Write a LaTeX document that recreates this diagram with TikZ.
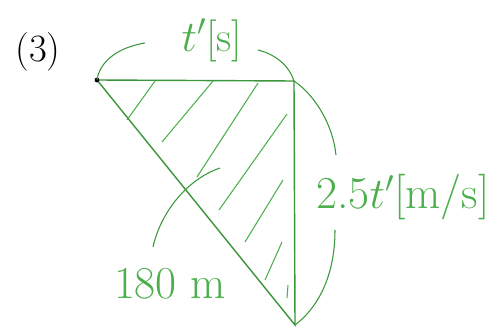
\documentclass[tikz,border=0pt]{standalone}
\usepackage{tikz}
\usetikzlibrary{positioning,calc}
\definecolor{pen}{HTML}{3A963A}
\definecolor{ink}{HTML}{4CAE4C}

\begin{document}
\begin{tikzpicture}[x=0.02cm,y=-0.02cm]
  \useasboundingbox (0,0) rectangle (500,334);
  \coordinate (A) at (97,80);
  \coordinate (B) at (294,81);
  \coordinate (C) at (295,325);

  % triangle
  \draw[pen,thick] (A) -- (B) -- (C) -- cycle;
  \fill (A) circle (2.4);

  % hatching
  \draw[ink,semithick] (155,81) -- (127,120);
  \draw[ink,semithick] (213,81) -- (162,142);
  \draw[ink,semithick] (258,83) -- (197,177);
  \draw[ink,semithick] (287,114) -- (219,210);
  \draw[ink,semithick] (283,180) -- (245,242);
  \draw[ink,semithick] (282,242) -- (265,280);
  \draw[ink,semithick] (288,285) -- (287,298);

  % braces
  \draw[pen,semithick] (A) .. controls (100,60) and (120,47) .. (145,43);
  \draw[pen,semithick] (258,50) .. controls (278,55) and (290,68) .. (B);
  \draw[pen,semithick] (B) .. controls (315,95) and (333,125) .. (336,155);
  \draw[pen,semithick] (335,230) .. controls (335,280) and (315,310) .. (C);
  \draw[pen,semithick] (153,247) .. controls (160,215) and (185,180) .. (220,168);

  \node[font=\fontsize{22}{26}\selectfont] (num) at (38,52) {(3)};
  \node[font=\fontsize{24}{28}\selectfont,ink] (time) at (212,40) {$t'$[s]};
  \node[font=\fontsize{26}{30}\selectfont,ink] (speed) at (403,197) {2.5$t'$[m/s]};
  \node[font=\fontsize{26}{30}\selectfont,ink] (dist) at (170,284) {180 m};
\end{tikzpicture}
\end{document}
